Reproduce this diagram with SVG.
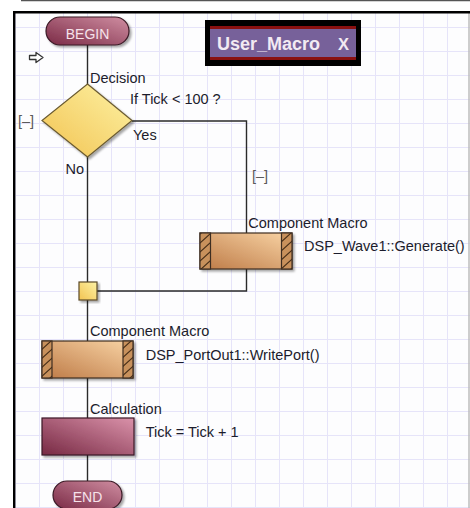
<svg xmlns="http://www.w3.org/2000/svg" width="470" height="508" viewBox="0 0 470 508">
<defs>
<style>
.lbl{font-family:"Liberation Sans",Arial,sans-serif;font-size:14.5px;fill:#1c1c2c}
.tog{font-family:"Liberation Sans",Arial,sans-serif;font-size:14.5px;fill:#5a5a5a}
.term{font-family:"Liberation Sans",Arial,sans-serif;font-size:14px;fill:#f6e2ea;text-anchor:middle}
.conn{fill:none;stroke:#2a2a2a;stroke-width:1.4}
.box{stroke:#3e2e22;stroke-width:1.2}
</style>
<pattern id="grid" width="24" height="24" patternUnits="userSpaceOnUse" x="15" y="3">
<rect width="24" height="24" fill="#fdfdfe"/>
<path d="M0.5,0V24M0,0.5H24" stroke="#e6e4f9" stroke-width="1"/>
</pattern>
<pattern id="hatch" width="10" height="9" patternUnits="userSpaceOnUse">
<rect width="10" height="9" fill="#c8915c"/>
<path d="M0,9L10,0M-1,1L1,-1M9,10L11,8" stroke="#4a3018" stroke-width="1.2"/>
</pattern>
<linearGradient id="gPill" x1="0" y1="1" x2="1" y2="0">
<stop offset="0" stop-color="#7a2a45"/><stop offset="1" stop-color="#d08ea2"/>
</linearGradient>
<linearGradient id="gDia" x1="0" y1="1" x2="1" y2="0">
<stop offset="0" stop-color="#f2c352"/><stop offset="1" stop-color="#fdf2a4"/>
</linearGradient>
<linearGradient id="gTan" x1="0" y1="1" x2="1" y2="0">
<stop offset="0" stop-color="#bd7a46"/><stop offset="1" stop-color="#f9d4a5"/>
</linearGradient>
<linearGradient id="gCalc" x1="0" y1="1" x2="1" y2="0">
<stop offset="0" stop-color="#772943"/><stop offset="1" stop-color="#da92aa"/>
</linearGradient>
<filter id="sh" x="-20%" y="-20%" width="140%" height="140%">
<feDropShadow dx="2" dy="2" stdDeviation="1" flood-color="#000" flood-opacity="0.35"/>
</filter>
</defs>

<rect width="470" height="508" fill="#ffffff"/>
<line x1="21" y1="0.5" x2="470" y2="0.5" stroke="#555" stroke-width="1.5"/>
<rect x="14" y="12" width="456" height="496" fill="url(#grid)"/>
<line x1="469" y1="12" x2="469" y2="508" stroke="#bdbdbd" stroke-width="1.5"/>
<path d="M14.2,508V12.2H470" fill="none" stroke="#000" stroke-width="2.4"/>

<path d="M29.5,55.5H36V52.5L43,57.5L36,62.5V59.5H29.5Z" fill="#fff" stroke="#333" stroke-width="1.3" stroke-linejoin="round"/>

<g id="connectors">
<path class="conn" d="M87.5,45V84"/>
<path class="conn" d="M87.5,157V282"/>
<path class="conn" d="M132,121H246.5V233"/>
<path class="conn" d="M246.5,269V291H97"/>
<path class="conn" d="M87.5,300V341"/>
<path class="conn" d="M87.5,378V418"/>
<path class="conn" d="M87.5,455V481"/>
</g>

<g id="begin">
<rect x="46" y="17" width="83" height="28" rx="14" fill="url(#gPill)" stroke="#3a1a25" stroke-width="1.2" filter="url(#sh)"/>
<text class="term" x="87.5" y="38.5">BEGIN</text>
</g>

<g id="decision">
<polygon points="87.5,84 132,120.5 87.5,157 42,120.5" fill="url(#gDia)" stroke="#6a5a30" stroke-width="1.2" filter="url(#sh)"/>
<text class="lbl" x="90" y="82.5">Decision</text>
<text class="lbl" x="130" y="103.5">If Tick &lt; 100 ?</text>
<text class="lbl" x="133" y="140">Yes</text>
<text class="lbl" x="65.5" y="174">No</text>
<text class="tog" x="18" y="126">[–]</text>
<text class="tog" x="252" y="181">[–]</text>
</g>

<g id="component1">
<rect class="box" x="200" y="233" width="92" height="36" fill="url(#gTan)" filter="url(#sh)"/>
<rect class="box" x="200" y="233" width="10.5" height="36" fill="url(#hatch)"/>
<rect class="box" x="281.5" y="233" width="10.5" height="36" fill="url(#hatch)"/>
<text class="lbl" x="248.3" y="228">Component Macro</text>
<text class="lbl" x="304" y="251">DSP_Wave1::Generate()</text>
</g>

<g id="junction">
<rect x="79" y="282" width="18" height="18" fill="url(#gDia)" stroke="#5a4a28" stroke-width="1.2" filter="url(#sh)"/>
</g>

<g id="component2">
<rect class="box" x="42" y="341" width="91" height="37" fill="url(#gTan)" filter="url(#sh)"/>
<rect class="box" x="42" y="341" width="10" height="37" fill="url(#hatch)"/>
<rect class="box" x="123" y="341" width="10" height="37" fill="url(#hatch)"/>
<text class="lbl" x="90" y="336">Component Macro</text>
<text class="lbl" x="145.7" y="360">DSP_PortOut1::WritePort()</text>
</g>

<g id="calculation">
<rect x="42" y="418" width="92" height="37" fill="url(#gCalc)" stroke="#3a1a25" stroke-width="1.2" filter="url(#sh)"/>
<text class="lbl" x="90" y="414">Calculation</text>
<text class="lbl" x="145.7" y="437">Tick = Tick + 1</text>
</g>

<g id="end">
<rect x="53" y="481" width="69" height="28" rx="14" fill="url(#gPill)" stroke="#3a1a25" stroke-width="1.2" filter="url(#sh)"/>
<text class="term" x="87.5" y="502">END</text>
</g>

<g id="tab">
<rect x="205" y="20" width="156" height="46" fill="#000"/>
<rect x="210" y="26" width="146" height="34" fill="#8a1010"/>
<rect x="210" y="29" width="146" height="28" fill="#77619a"/>
<text x="217" y="50" style="font-family:'Liberation Sans',Arial,sans-serif;font-size:18px;font-weight:bold;fill:#f2eaf2">User_Macro</text>
<text x="338" y="49.5" style="font-family:'Liberation Sans',Arial,sans-serif;font-size:16.5px;font-weight:bold;fill:#f2eaf2">X</text>
</g>
</svg>
